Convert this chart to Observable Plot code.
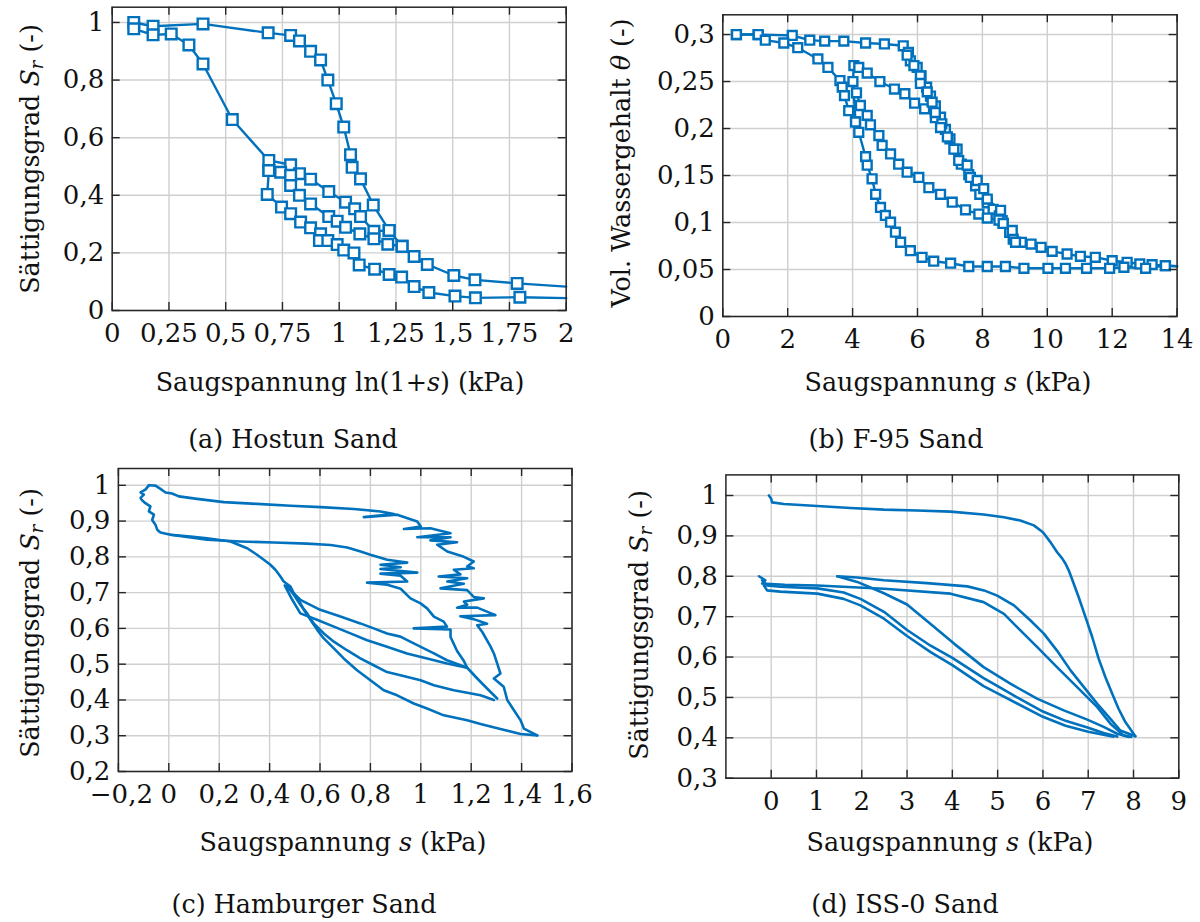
<!DOCTYPE html>
<html><head><meta charset="utf-8">
<script src="https://cdn.jsdelivr.net/npm/d3@7"></script>
<script src="https://cdn.jsdelivr.net/npm/@observablehq/plot@0.6"></script>
<style>
body{margin:0;background:#fff;}
#root{position:relative;width:1200px;height:922px;overflow:hidden;color:#111;background:#fff;}
.panel{position:absolute;}
.lbl{position:absolute;white-space:nowrap;line-height:1;transform:translate(-50%,-50%);}
.rot{transform:translate(-50%,-50%) rotate(-90deg);}
sub{font-size:0.7em;vertical-align:-0.22em;line-height:0;}
</style></head><body><div id="root"></div>
<script>
const BLUE = "#0072BD";

// ---------- (a) Hostun Sand: x = ln(1+s), y = Sr ----------
const hostunXTicks = [0, 0.25, 0.5, 0.75, 1, 1.25, 1.5, 1.75, 2];
const hostunYTicks = [0, 0.2, 0.4, 0.6, 0.8, 1];
const hostunDrying = [[0.095,1.0],[0.18,0.987],[0.40,0.995],[0.687,0.964],[0.786,0.955],[0.825,0.936],[0.874,0.90],[0.918,0.87],[0.95,0.80],[0.987,0.718],[1.02,0.637],[1.05,0.541],[1.057,0.497],[1.094,0.457],[1.15,0.366],[1.22,0.278],[1.277,0.223],[1.33,0.1875],[1.388,0.16],[1.505,0.1215],[1.598,0.1065],[1.784,0.094],[2.0,0.083]];
const hostunLower = [[0.095,0.978],[0.18,0.957],[0.26,0.96],[0.338,0.922],[0.40,0.856],[0.529,0.663],[0.69,0.521],[0.786,0.506],[0.825,0.475],[0.874,0.456],[0.954,0.413],[1.028,0.376],[1.068,0.353],[1.094,0.326],[1.153,0.275],[1.22,0.278]];
const hostunScan = [[0.69,0.486],[0.742,0.48],[0.786,0.469],[0.786,0.434],[0.825,0.40],[0.874,0.37],[0.954,0.326],[0.991,0.31],[1.028,0.289],[1.091,0.266],[1.153,0.249],[1.214,0.23],[1.277,0.223]];
const hostunBottom = [[0.69,0.486],[0.683,0.403],[0.746,0.359],[0.786,0.336],[0.83,0.307],[0.874,0.287],[0.918,0.266],[0.913,0.243],[0.95,0.243],[0.991,0.229],[1.02,0.21],[1.065,0.2],[1.088,0.158],[1.156,0.1435],[1.22,0.125],[1.275,0.116],[1.33,0.083],[1.395,0.0625],[1.51,0.05],[1.60,0.044],[1.796,0.046],[2.0,0.043]];

// ---------- (b) F-95 Sand: x = s (kPa), y = theta ----------
const f95XTicks = [0, 2, 4, 6, 8, 10, 12, 14];
const f95YTicks = [0, 0.05, 0.1, 0.15, 0.2, 0.25, 0.3];
const f95Upper = [[0.42,0.300],[1.09,0.300],[2.14,0.299],[2.68,0.294],[3.14,0.293],[3.73,0.293],[4.40,0.291],[4.98,0.290],[5.56,0.288],[5.72,0.281],[5.78,0.272],[5.99,0.265],[6.11,0.256],[6.28,0.244],[6.40,0.2345],[6.55,0.224],[6.71,0.212],[6.86,0.199],[7.0,0.189],[7.22,0.178],[7.35,0.162],[7.58,0.151],[7.79,0.139],[7.92,0.130],[8.15,0.121],[8.33,0.114],[8.52,0.107],[8.64,0.099],[8.84,0.0895],[8.95,0.0824],[9.2,0.0789],[9.5,0.0771],[9.81,0.0736],[10.15,0.0693],[10.61,0.0665],[11.02,0.064],[11.48,0.063],[12.0,0.0594],[12.46,0.0577],[12.85,0.0559],[13.23,0.0552],[13.64,0.0541],[14.0,0.0534]];
const f95Lower = [[0.42,0.300],[1.09,0.300],[1.31,0.294],[1.88,0.291],[2.31,0.286],[2.93,0.274],[3.24,0.265],[3.61,0.251],[3.68,0.244],[3.75,0.235],[3.88,0.219],[4.09,0.207],[4.19,0.196],[4.40,0.170],[4.45,0.161],[4.60,0.1465],[4.71,0.130],[4.86,0.116],[5.01,0.1075],[5.17,0.1003],[5.32,0.0897],[5.48,0.079],[5.78,0.070],[6.14,0.063],[6.50,0.0588],[7.02,0.0567],[7.58,0.0532],[8.15,0.0532],[8.71,0.0532],[9.28,0.0513],[10.02,0.0513],[10.56,0.0513],[11.21,0.0513],[11.92,0.0513],[12.36,0.0524],[13.03,0.0513],[13.64,0.0541],[14.0,0.0534]];
const f95Scan1 = [[4.09,0.207],[4.01,0.250],[4.04,0.267],[4.19,0.265],[4.45,0.259],[4.84,0.250],[5.29,0.242],[5.61,0.237],[5.91,0.227],[6.22,0.221],[6.55,0.2115],[6.75,0.205],[6.92,0.191],[7.12,0.178],[7.27,0.166],[7.53,0.161],[7.63,0.148],[7.84,0.1447],[8.04,0.136],[8.15,0.125],[8.56,0.113],[8.61,0.102],[8.92,0.0915],[9.02,0.079]];
const f95Scan2 = [[4.12,0.238],[4.24,0.2245],[4.45,0.214],[4.55,0.204],[4.81,0.1925],[4.91,0.182],[5.17,0.173],[5.42,0.162],[5.68,0.1535],[6.04,0.148],[6.35,0.137],[6.71,0.130],[7.07,0.1216],[7.48,0.1135],[7.89,0.109],[8.15,0.1047],[8.51,0.1026],[8.64,0.099]];
const f95Scan3 = [[5.68,0.278],[5.89,0.267],[6.09,0.256],[6.09,0.248],[6.30,0.239],[6.45,0.228],[6.55,0.217],[6.71,0.201]];

// ---------- (c) Hamburger Sand: x = s (kPa), y = Sr ----------
const hamburgXTicks = [-0.2, 0, 0.2, 0.4, 0.6, 0.8, 1, 1.2, 1.4, 1.6];
const hamburgYTicks = [0.2, 0.3, 0.4, 0.5, 0.6, 0.7, 0.8, 0.9, 1];
const hamburgDrying1 = [[-0.079,1.0],[-0.053,0.999],[-0.033,0.99],[-0.013,0.98],[0.013,0.977],[0.04,0.969],[0.112,0.962],[0.218,0.953],[0.35,0.948],[0.483,0.943],[0.602,0.939],[0.734,0.934],[0.84,0.927],[0.893,0.92],[0.774,0.911],[0.906,0.918],[0.986,0.899],[1.0,0.885],[0.933,0.878],[1.038,0.88],[1.118,0.866],[0.986,0.855],[1.118,0.855],[1.038,0.846],[1.144,0.841],[1.065,0.834],[1.105,0.815],[1.171,0.8],[1.21,0.787],[1.184,0.773],[1.21,0.768],[1.131,0.764],[1.157,0.751],[1.071,0.745],[1.184,0.74],[1.105,0.731],[1.171,0.725],[1.078,0.712],[1.184,0.707],[1.21,0.688],[1.25,0.684],[1.171,0.675],[1.184,0.666],[1.144,0.658],[1.224,0.658],[1.296,0.637],[1.157,0.634],[1.21,0.626],[1.263,0.613],[1.224,0.609],[1.244,0.59],[1.277,0.549],[1.29,0.53],[1.303,0.502],[1.316,0.474],[1.29,0.46],[1.329,0.437],[1.343,0.40],[1.369,0.372],[1.396,0.343],[1.409,0.32],[1.462,0.301]];
const hamburgWetting1 = [[1.462,0.301],[1.396,0.305],[1.316,0.319],[1.237,0.333],[1.184,0.343],[1.091,0.357],[1.025,0.376],[0.972,0.39],[0.906,0.413],[0.853,0.427],[0.8,0.455],[0.747,0.483],[0.694,0.516],[0.655,0.544],[0.615,0.572],[0.589,0.596],[0.562,0.624],[0.536,0.652],[0.522,0.671],[0.496,0.698],[0.483,0.717],[0.456,0.731],[0.443,0.745],[0.423,0.764],[0.403,0.778],[0.377,0.792],[0.35,0.806],[0.311,0.824],[0.245,0.843],[0.152,0.852],[0.086,0.857],[0.007,0.862],[-0.033,0.868],[-0.046,0.876],[-0.053,0.89],[-0.066,0.903],[-0.059,0.918],[-0.079,0.927],[-0.073,0.941],[-0.093,0.95],[-0.106,0.958],[-0.112,0.965],[-0.099,0.974],[-0.112,0.98],[-0.093,0.988],[-0.079,1.0]];
const hamburgDrying2 = [[0.007,0.862],[0.152,0.848],[0.284,0.843],[0.417,0.840],[0.549,0.837],[0.642,0.833],[0.708,0.826],[0.761,0.815],[0.8,0.806],[0.867,0.792],[0.946,0.784],[0.84,0.778],[0.92,0.771],[0.84,0.766],[0.986,0.756],[0.84,0.753],[0.92,0.747],[0.946,0.731],[0.787,0.728],[0.867,0.722],[0.92,0.711],[0.959,0.684],[0.999,0.67],[1.025,0.656],[1.052,0.633],[1.091,0.619],[1.104,0.605],[0.972,0.6],[1.118,0.597],[1.118,0.576],[1.144,0.537],[1.171,0.509],[1.184,0.49],[1.224,0.46],[1.263,0.432],[1.303,0.404]];
const hamburgWetting2 = [[1.29,0.40],[1.237,0.413],[1.131,0.427],[1.052,0.441],[0.999,0.455],[0.919,0.469],[0.866,0.478],[0.813,0.497],[0.76,0.516],[0.707,0.539],[0.655,0.563],[0.615,0.586],[0.575,0.614],[0.549,0.642],[0.522,0.666],[0.50,0.69],[0.47,0.72]];
const hamburgDrying3 = [[0.47,0.715],[0.522,0.68],[0.601,0.652],[0.681,0.633],[0.76,0.614],[0.813,0.6],[0.866,0.586],[0.919,0.577],[0.972,0.558],[1.052,0.53],[1.104,0.511],[1.184,0.49]];
const hamburgWetting3 = [[1.184,0.49],[1.104,0.502],[1.025,0.516],[0.945,0.53],[0.866,0.549],[0.787,0.567],[0.721,0.586],[0.655,0.605],[0.588,0.624],[0.522,0.642],[0.49,0.68],[0.46,0.72]];

// ---------- (d) ISS-0 Sand: x = s (kPa), y = Sr ----------
const issXTicks = [0, 1, 2, 3, 4, 5, 6, 7, 8, 9];
const issYTicks = [0.3, 0.4, 0.5, 0.6, 0.7, 0.8, 0.9, 1];
const issMain = [[-0.05,1.0],[0,0.992],[0.02,0.983],[0.28,0.979],[1.02,0.974],[1.75,0.969],[2.49,0.965],[3.22,0.963],[3.96,0.96],[4.69,0.953],[5.14,0.946],[5.5,0.938],[5.8,0.926],[6.0,0.909],[6.17,0.884],[6.31,0.86],[6.42,0.845],[6.5,0.831],[6.58,0.812],[6.64,0.794],[6.79,0.748],[6.94,0.699],[7.09,0.649],[7.23,0.596],[7.38,0.55],[7.53,0.509],[7.67,0.472],[7.82,0.439],[8.04,0.404]];
const issScanA = [[1.46,0.80],[1.9,0.797],[2.49,0.79],[3.44,0.783],[4.33,0.775],[4.7,0.765],[4.99,0.752],[5.36,0.728],[5.72,0.691],[6.02,0.658],[6.31,0.616],[6.61,0.567],[6.9,0.526],[7.2,0.484],[7.49,0.447],[7.71,0.418],[8.04,0.404]];
const issScanB = [[1.46,0.80],[1.9,0.786],[2.49,0.758],[3.0,0.73],[3.52,0.682],[4.05,0.632],[4.69,0.575],[5.28,0.534],[5.87,0.497],[6.46,0.468],[6.98,0.445],[7.34,0.427],[7.64,0.41],[7.9,0.402]];
const issScanC = [[-0.27,0.80],[-0.13,0.79],[-0.2,0.782],[-0.01,0.781],[0.3,0.779],[1.02,0.777],[2.49,0.769],[3.96,0.757],[4.69,0.736],[5.14,0.707],[5.43,0.674],[5.87,0.625],[6.31,0.575],[6.75,0.526],[7.2,0.476],[7.49,0.435],[7.78,0.406],[7.95,0.402]];
const issScanD = [[-0.2,0.79],[-0.09,0.777],[0.2,0.774],[1.02,0.77],[1.6,0.76],[1.97,0.744],[2.49,0.712],[3.0,0.667],[3.52,0.628],[4.0,0.598],[4.69,0.548],[5.0,0.528],[5.43,0.5],[6.0,0.465],[6.5,0.442],[7.0,0.425],[7.34,0.412],[7.64,0.403]];
const issScanE = [[-0.16,0.777],[-0.09,0.765],[0.2,0.762],[1.02,0.757],[1.6,0.744],[1.97,0.728],[2.49,0.695],[3.0,0.652],[3.52,0.612],[4.0,0.58],[4.69,0.528],[5.0,0.51],[5.43,0.485],[6.0,0.452],[6.5,0.43],[7.0,0.415],[7.56,0.403]];

// ---------- fonts: an installed serif face, sized to match the reference ----------
const ctx = document.createElement("canvas").getContext("2d");
function textWidth(font, t) { ctx.font = font; return ctx.measureText(t).width; }
const FONT = `"DejaVu Serif", "Liberation Serif", serif`;
const LABEL_PX = Math.min(30, 30 * 287 / textWidth(`30px ${FONT}`, "Saugspannung s (kPa)"));
const TICK_PX = 26;

const st = document.createElement("style");
st.textContent = `.panel svg, .panel svg text, .panel svg tspan { font-family: ${FONT} !important; }`;
document.head.appendChild(st);

const fmt = d => { const v = +(+d).toFixed(4); return (v < 0 ? "\u2212" : "") + String(Math.abs(v)).replace(".", ","); };

const root = document.getElementById("root");
root.style.fontFamily = FONT;

function panel(o) {
  const innerH = o.height - o.mT - o.mB, innerW = o.width - o.mL - o.mR;
  const data = o.series.flatMap((s, i) => s.map(([x, y]) => ({x, y, id: i})));
  const tk = {stroke: "#262626", strokeWidth: 1.4};
  const txt = {fontFamily: FONT, fontSize: TICK_PX, fill: "#111"};
  const marks = [
    Plot.gridX(o.xTicks, {stroke: "#cfcfcf", strokeOpacity: 1, strokeWidth: 1.4}),
    Plot.gridY(o.yTicks, {stroke: "#cfcfcf", strokeOpacity: 1, strokeWidth: 1.4}),
    Plot.line(data, {x: "x", y: "y", z: "id", stroke: BLUE, strokeWidth: o.sw})
  ];
  if (o.r) marks.push(Plot.dot(data.filter(d => d.x < o.xDomain[1] - 1e-6), {x: "x", y: "y", symbol: "square", r: o.r, fill: "white", stroke: BLUE, strokeWidth: 2.4}));
  const negTicks = o.xTicks.filter(d => d < 0), posTicks = o.xTicks.filter(d => d >= 0);
  marks.push(
    Plot.tickX(o.xTicks, {x: d => d, insetTop: innerH - 8, ...tk}),
    Plot.tickX(o.xTicks, {x: d => d, insetBottom: innerH - 8, ...tk}),
    Plot.tickY(o.yTicks, {y: d => d, insetRight: innerW - 8, ...tk}),
    Plot.tickY(o.yTicks, {y: d => d, insetLeft: innerW - 8, ...tk}),
    Plot.frame({stroke: "#262626", strokeWidth: 1.5}),
    Plot.axisX(posTicks, {tickSize: 0, tickPadding: 13, tickFormat: fmt, label: null, ...txt}),
    Plot.axisY(o.yTicks, {tickSize: 0, tickPadding: 8, tickFormat: fmt, label: null, ...txt})
  );
  if (negTicks.length) marks.push(Plot.axisX(negTicks, {tickSize: 0, tickPadding: 13, tickFormat: fmt, label: null, dx: 3, ...txt}));
  const svg = Plot.plot({
    width: o.width, height: o.height,
    marginLeft: o.mL, marginRight: o.mR, marginTop: o.mT, marginBottom: o.mB,
    x: {domain: o.xDomain}, y: {domain: o.yDomain},
    style: {fontFamily: FONT, fontSize: TICK_PX + "px", background: "transparent", overflow: "visible", color: "#111"},
    marks
  });
  const div = document.createElement("div");
  div.className = "panel";
  div.style.left = o.left + "px"; div.style.top = o.top + "px";
  div.appendChild(svg);
  root.appendChild(div);
}

function label(html, x, y, rot) {
  const d = document.createElement("div");
  d.className = "lbl" + (rot ? " rot" : "");
  d.style.left = x + "px"; d.style.top = y + "px";
  d.style.fontSize = LABEL_PX + "px";
  d.innerHTML = html;
  root.appendChild(d);
}

panel({left: 0, top: 0, width: 600, height: 360, mL: 111.7, mR: 34.3, mT: 6.7, mB: 50,
  xDomain: [0, 2], yDomain: [0, 1.053], xTicks: hostunXTicks, yTicks: hostunYTicks,
  series: [hostunDrying, hostunLower, hostunScan, hostunBottom], r: 6, sw: 2.4});
panel({left: 600, top: 0, width: 600, height: 360, mL: 122.3, mR: 23.4, mT: 14.3, mB: 44,
  xDomain: [0, 14], yDomain: [0, 0.321], xTicks: f95XTicks, yTicks: f95YTicks,
  series: [f95Upper, f95Lower, f95Scan1, f95Scan2, f95Scan3], r: 5, sw: 2.4});
panel({left: 0, top: 440, width: 600, height: 380, mL: 117.9, mR: 28.5, mT: 28, mB: 49,
  xDomain: [-0.2, 1.6], yDomain: [0.2, 1.047], xTicks: hamburgXTicks, yTicks: hamburgYTicks,
  series: [hamburgDrying1, hamburgWetting1, hamburgDrying2, hamburgWetting2, hamburgDrying3, hamburgWetting3], r: 0, sw: 2.6});
panel({left: 600, top: 440, width: 600, height: 380, mL: 125.4, mR: 21.7, mT: 34.4, mB: 42.3,
  xDomain: [-1, 9], yDomain: [0.3, 1.051], xTicks: issXTicks, yTicks: issYTicks,
  series: [issMain, issScanA, issScanB, issScanC, issScanD, issScanE], r: 0, sw: 2.6});

const srLabel = "Sättigungsgrad <i>S<sub>r</sub></i> (-)";
label(srLabel, 31, 159, true);
label("Saugspannung ln(1+<i>s</i>) (kPa)", 340, 383);
label("(a) Hostun Sand", 293, 440);
label("Vol. Wassergehalt <i>θ</i> (-)", 622, 163, true);
label("Saugspannung <i>s</i> (kPa)", 948, 383);
label("(b) F-95 Sand", 896, 440);
label(srLabel, 31, 623, true);
label("Saugspannung <i>s</i> (kPa)", 343, 843);
label("(c) Hamburger Sand", 304, 905);
label(srLabel, 640, 625, true);
label("Saugspannung <i>s</i> (kPa)", 950, 843);
label("(d) ISS-0 Sand", 905, 905);
</script></body></html>
